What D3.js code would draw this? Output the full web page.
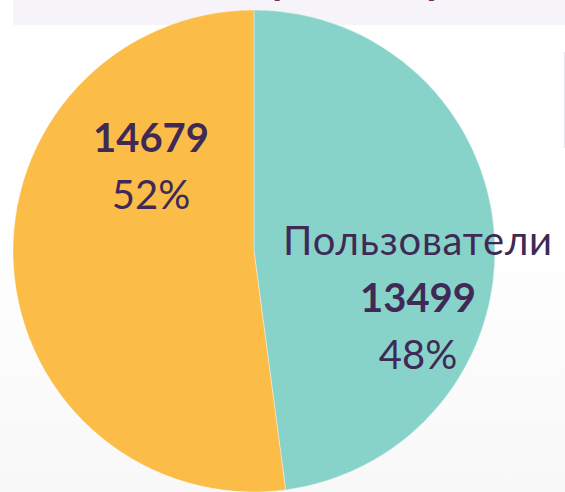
<!DOCTYPE html>
<html>
<head>
<meta charset="utf-8">
<script src="https://cdn.jsdelivr.net/npm/d3@7"></script>
<style>
    html, body { margin: 0; padding: 0; background: #ffffff; }
    svg { display: block; }
</style>
</head>
<body>
<svg id="chart" width="565" height="492"></svg>
<script>
// data
const categories = ['Пользователи', ''];
const values = [13499, 14679];
const colors = ['#88d3c9', '#fbbd48'];

const width = 565,
    height = 492,
    cx = 254,
    cy = 251,
    radius = 241;

const svg = d3.select('#chart');

// faint background texture at the bottom
const defs = svg.append('defs');
const grad = defs.append('linearGradient')
    .attr('id', 'bg-fade')
    .attr('x1', 0).attr('y1', 0).attr('x2', 0).attr('y2', 1);
grad.append('stop').attr('offset', '0%').attr('stop-color', '#ffffff');
grad.append('stop').attr('offset', '100%').attr('stop-color', '#f8f8f8');

svg.append('rect')
    .attr('x', 0).attr('y', 230)
    .attr('width', width).attr('height', height - 230)
    .attr('fill', 'url(#bg-fade)');

// title banner (cut by the top edge)
svg.append('rect')
    .attr('x', 13).attr('y', 0)
    .attr('width', width - 13).attr('height', 25)
    .attr('fill', '#f6f4f9');

svg.append('text')
    .attr('x', 86).attr('y', -6)
    .attr('font-family', 'Lato, sans-serif')
    .attr('font-size', 40)
    .attr('font-weight', 'bold')
    .attr('fill', '#7a2a5e')
    .text('Кто пользуется порталом');

// faint right edge line
svg.append('line')
    .attr('x1', 564.5).attr('x2', 564.5)
    .attr('y1', 52).attr('y2', 148)
    .attr('stroke', '#e6e6ea')
    .attr('stroke-width', 1);

const total = d3.sum(values);

const pie = d3.pie()
    .sort(null)
    .value(function(d) { return d; });

const arc = d3.arc()
    .innerRadius(0)
    .outerRadius(radius);

const g = svg.append('g')
    .attr('transform', 'translate(' + cx + ',' + cy + ')');

const arcs = pie(values);

g.selectAll('path')
    .data(arcs)
    .enter()
    .append('path')
    .attr('d', arc)
    .attr('fill', function(d, i) { return colors[i]; })
    .attr('stroke', '#ffffff')
    .attr('stroke-width', 0.6)
    .attr('stroke-opacity', 0.6);

// label anchors (manually placed like the original)
const labelAnchors = [
    { x: 418, y: 255 },
    { x: 151, y: 152 }
];

const lineStep = 57;

arcs.forEach(function(d, i) {
    let lines = [];
    if (categories[i]) lines.push({ t: categories[i], bold: false });
    lines.push({ t: String(values[i]), bold: true });
    lines.push({ t: Math.round(values[i] / total * 100) + '%', bold: false });

    const txt = svg.append('text')
        .attr('text-anchor', 'middle')
        .attr('font-family', 'Lato, sans-serif')
        .attr('font-size', 40)
        .attr('fill', '#3f2a56');

    lines.forEach(function(l, k) {
        txt.append('tspan')
            .attr('x', labelAnchors[i].x)
            .attr('y', labelAnchors[i].y + k * lineStep)
            .attr('font-weight', l.bold ? 'bold' : 'normal')
            .attr('letter-spacing', (!l.bold && k == 0 && categories[i]) ? 0.8 : 0)
            .text(l.t);
    });
});
</script>
</body>
</html>
